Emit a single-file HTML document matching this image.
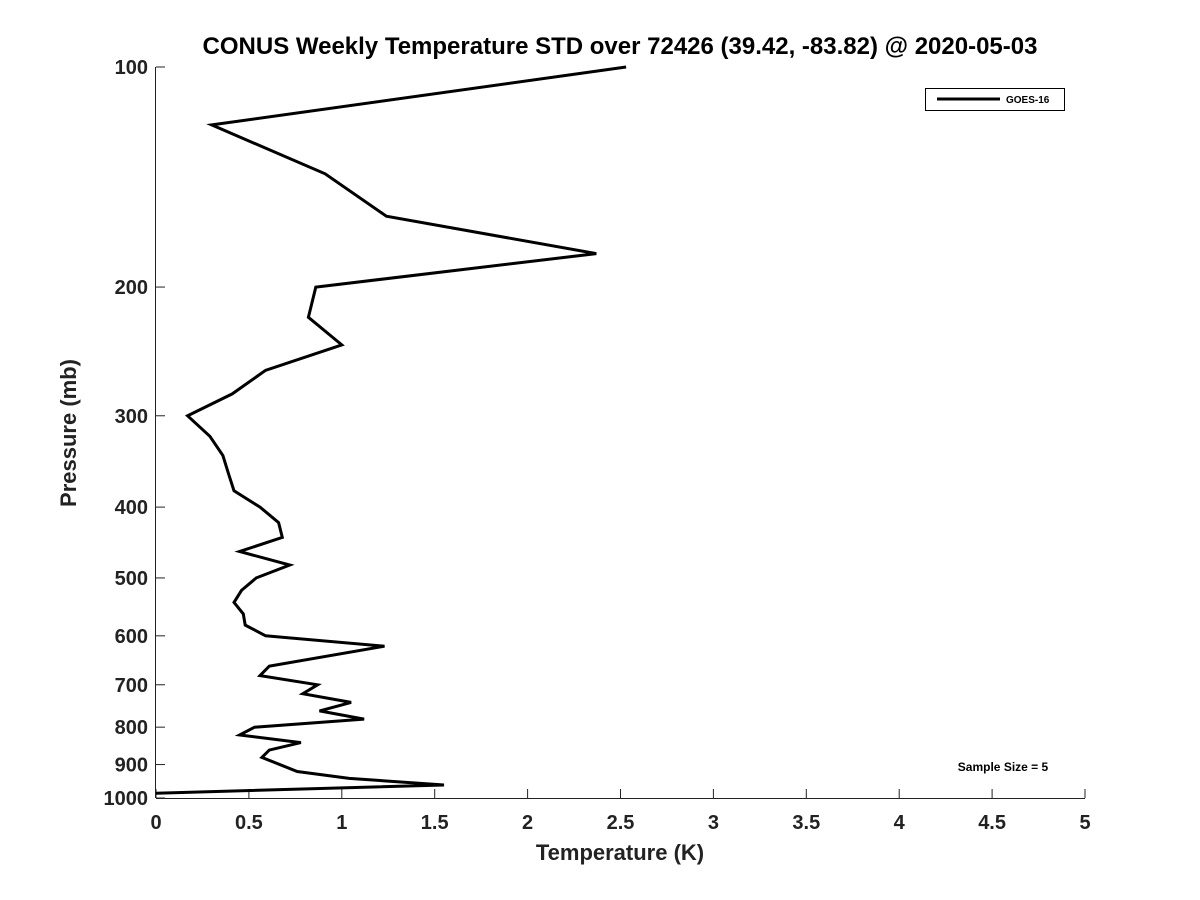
<!DOCTYPE html>
<html><head><meta charset="utf-8"><style>
body{margin:0;background:#fff}
svg{display:block;font-family:"Liberation Sans","DejaVu Sans",sans-serif}
</style></head><body>
<svg id="chart" width="1200" height="900" viewBox="0 0 1200 900" xmlns="http://www.w3.org/2000/svg">
<rect width="1200" height="900" fill="#fff"/>
<text x="620" y="54" text-anchor="middle" font-size="24" font-weight="bold" fill="#000">CONUS Weekly Temperature STD over 72426 (39.42, -83.82) @ 2020-05-03</text>
<g id="axes"></g>
<g id="series"></g>
<g>
<rect x="925.5" y="88.5" width="139" height="22" fill="#fff" stroke="#000" stroke-width="1"/>
<line x1="937" y1="99" x2="1000" y2="99" stroke="#000" stroke-width="3"/>
<text x="1006" y="103" font-size="10" font-weight="bold">GOES-16</text>
</g>
<text x="1003" y="771" text-anchor="middle" font-size="12" font-weight="bold">Sample Size = 5</text>
<text x="620" y="860" text-anchor="middle" font-size="22" font-weight="bold" fill="#222">Temperature (K)</text>
<text transform="translate(76,433) rotate(-90)" text-anchor="middle" font-size="22" font-weight="bold" fill="#222">Pressure (mb)</text>
</svg>
<script>
const temps=[2.53,0.30,0.91,1.24,2.37,0.86,0.82,1.00,0.59,0.41,0.17,0.29,0.36,0.39,0.42,0.56,0.66,0.68,0.45,0.72,0.54,0.46,0.42,0.47,0.48,0.59,1.23,0.61,0.56,0.87,0.79,1.05,0.88,1.12,0.53,0.45,0.78,0.61,0.57,0.76,1.04,1.55,0.00];
const pressures=[100,120,140,160,180,200,220,240,260,280,300,320,340,360,380,400,420,440,460,480,500,520,540,560,580,600,620,660,680,700,720,740,760,780,800,820,840,860,880,920,940,960,985];
const xTicks=[0,0.5,1,1.5,2,2.5,3,3.5,4,4.5,5];
const xTickLabels=["0","0.5","1","1.5","2","2.5","3","3.5","4","4.5","5"];
const yTicks=[100,200,300,400,500,600,700,800,900,1000];
const L=156,R=1085,T=67,B=798;
const xs=v=>L+(v-0)/(5-0)*(R-L);
const ys=p=>T+(Math.log10(p)-2)/(Math.log10(1000)-2)*(B-T);
const NS="http://www.w3.org/2000/svg";
const axes=document.getElementById('axes');
function mk(tag,attrs,parent){const e=document.createElementNS(NS,tag);for(const k in attrs)e.setAttribute(k,attrs[k]);parent.appendChild(e);return e;}
const xa=mk('line',{x1:L,y1:B+0.5,x2:R,y2:B+0.5,stroke:'#222','stroke-width':1},axes);


const ya=mk('line',{x1:L-0.5,y1:T,x2:L-0.5,y2:B,stroke:'#222','stroke-width':1},axes);


xTicks.forEach((v,i)=>{const x=xs(v);
const t=mk('line',{x1:x,y1:B,x2:x,y2:B-9,stroke:'#222'},axes);


const lb=mk('text',{x:x,y:B+31,'text-anchor':'middle','font-size':20,'font-weight':'bold',fill:'#222'},axes);
lb.textContent=xTickLabels[i];

});
yTicks.forEach(p=>{const y=ys(p);
const t=mk('line',{x1:L,y1:y,x2:L+9,y2:y,stroke:'#222'},axes);


const lb=mk('text',{x:L-8,y:y+7,'text-anchor':'end','font-size':20,'font-weight':'bold',fill:'#222'},axes);
lb.textContent=String(p);

});
const pts=temps.map((t,i)=>xs(t).toFixed(1)+','+ys(pressures[i]).toFixed(1)).join(' ');
const line=mk('polyline',{points:pts,fill:'none',stroke:'#000','stroke-width':3,'stroke-linejoin':'miter'},document.getElementById('series'));


</script>
</body></html>
